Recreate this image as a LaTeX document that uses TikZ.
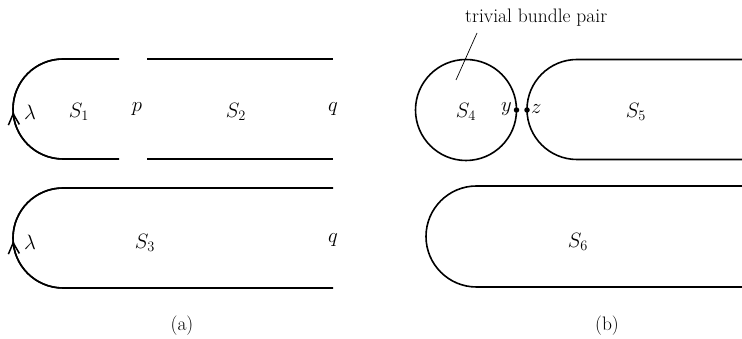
\documentclass[tikz,border=0pt]{standalone}
\usetikzlibrary{arrows.meta,decorations.markings}
\begin{document}
\begin{tikzpicture}[x=1pt,y=1pt,
  curve/.style={line width=1.6pt},
  arrowed/.style={postaction={decorate},decoration={markings,
     mark=at position #1 with {\arrow{Straight Barb[length=11pt,width=11pt,line width=1.5pt]}}}},
  lbl/.style={font=\fontsize{19.5}{23}\selectfont, inner sep=0pt},
  dot/.style={circle,fill=black,inner sep=0pt,minimum size=5.5pt}]
\useasboundingbox (0,0) rectangle (742,339);
% (a) top
\coordinate (a1) at (119,280);
\coordinate (a2) at (119,180);
\draw[curve] (a2) -- (63,180) arc[start angle=-90,end angle=-270,radius=50] -- (a1);
\draw[curve,arrowed=0.48] (63,180) arc[start angle=-90,end angle=-270,radius=50];
\coordinate (b1) at (147,280);
\coordinate (b2) at (333,280);
\coordinate (b3) at (147,180);
\coordinate (b4) at (333,180);
\draw[curve] (b1) -- (b2);
\draw[curve] (b3) -- (b4);
% (a) bottom
\coordinate (c1) at (333,151);
\coordinate (c2) at (333,51);
\draw[curve] (c2) -- (63,51) arc[start angle=-90,end angle=-270,radius=50] -- (c1);
\draw[curve,arrowed=0.48] (63,51) arc[start angle=-90,end angle=-270,radius=50];
% labels (a)
\node[lbl] (l1) at (30,227) {$\lambda$};
\node[lbl] (s1) at (79,227) {$S_1$};
\node[lbl] (p) at (137,230) {$p$};
\node[lbl] (s2) at (236,227) {$S_2$};
\node[lbl] (q1) at (333,230) {$q$};
\node[lbl] (l2) at (30,97) {$\lambda$};
\node[lbl] (s3) at (145,96) {$S_3$};
\node[lbl] (q2) at (333,99) {$q$};
\node[lbl] (capa) at (182,13) {(a)};
% (b)
\draw[curve] (466,229) circle[radius=50.5];
\coordinate (d1) at (742,279.5);
\coordinate (d2) at (742,179.5);
\draw[curve] (d1) -- (577,279.5) arc[start angle=90,end angle=270,radius=50] -- (d2);
\coordinate (e1) at (742,153);
\coordinate (e2) at (742,52);
\draw[curve] (e1) -- (476.5,153) arc[start angle=90,end angle=270,radius=50.5] -- (e2);
\node[dot] (y) at (516.5,229) {};
\node[dot] (z) at (527,229) {};
\node[lbl,anchor=east] (yl) at (512,229.5) {$y$};
\node[lbl,anchor=west] (zl) at (531,229.5) {$z$};
\node[lbl] (s4) at (466,227) {$S_4$};
\node[lbl] (s5) at (636,227) {$S_5$};
\node[lbl] (s6) at (578,97) {$S_6$};
\node[lbl,anchor=west] (tb) at (465,321) {trivial bundle pair};
\coordinate (tbe) at (456,259);
\draw[line width=0.7pt] (477,306) -- (tbe);
\node[lbl] (capb) at (607,13) {(b)};
\end{tikzpicture}
\end{document}
